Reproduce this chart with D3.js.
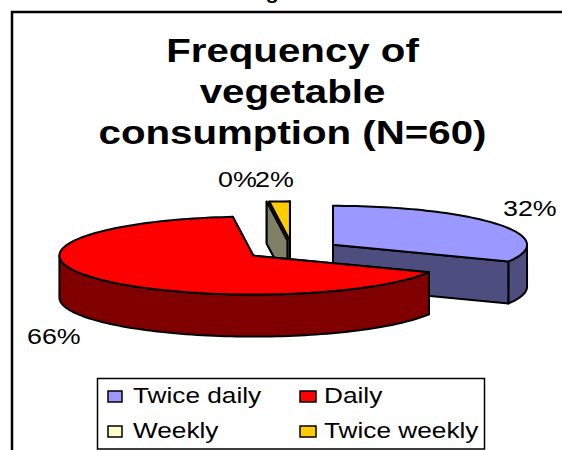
<!DOCTYPE html>
<html>
<head>
<meta charset="utf-8">
<script src="https://cdn.jsdelivr.net/npm/d3@7"></script>
<style>
  html, body { margin: 0; padding: 0; background: #fff; }
  svg { display: block; }
  text { font-family: "Liberation Sans", Arial, sans-serif; fill: #000; }
</style>
</head>
<body>
<div id="chart"></div>
<script>
// data
var categories = ["Twice daily", "Daily", "Weekly", "Twice weekly"];
var shares = [32, 66.3, 0, 1.7];
var titleLines = ["Frequency of", "vegetable", "consumption (N=60)"];

var topColors = ["#9999FF", "#FF0000", "#FFFFCC", "#FFCC00"];
var wallColors = ["#4D4D80", "#800000", "#808066", "#806600"];

var width = 562, height = 450;
var svg = d3.select("#chart").append("svg")
    .attr("width", width)
    .attr("height", height);

// image is stretched sideways compared to the font, so text gets an x scale
function addText(str, x, y, size, stretch, anchor, weight) {
    return svg.append("text")
        .attr("transform", "translate(" + x + "," + y + ") scale(" + stretch + ",1)")
        .attr("font-size", size)
        .attr("font-weight", weight || "normal")
        .attr("text-anchor", anchor || "start")
        .text(str);
}

// outer frame, right and bottom sides are cropped away in the original
svg.append("path")
    .attr("d", "M12,450V12H562")
    .attr("fill", "none")
    .attr("stroke", "#000")
    .attr("stroke-width", 2.5);

// bit of the caption above the frame
addText("g", 272, -1, 18, 1.2, "middle", "bold");

titleLines.forEach(function(line, i) {
    addText(line, 292.5, 62 + i * 41, 33, 1.22, "middle", "bold");
});

/**
 * Pie geometry: flattened ellipse with exploded slices
 */
var cx = 292.5, cy = 250, rx = 194, ry = 39, depth = 42, explode = 48;

var pie = d3.pie().sort(null).value(function(d) { return d; });
var arcs = pie(shares);
var percent = d3.format(".0%");
var total = d3.sum(shares);

// x/y scales take unit circle positions to the flattened pie
var xUnit = d3.scaleLinear().domain([-1, 1]).range([-rx, rx]);
var yUnit = d3.scaleLinear().domain([-1, 1]).range([-ry, ry]);
var line = d3.line();

function centerOf(arc) {
    var mid = (arc.startAngle + arc.endAngle) / 2;
    return [cx + explode * Math.sin(mid), cy - explode * (ry / rx) * Math.cos(mid)];
}

function rimPoint(c, angle, drop) {
    return [c[0] + xUnit(Math.sin(angle)), c[1] - yUnit(Math.cos(angle)) + drop];
}

function samples(a0, a1) {
    var n = Math.max(2, Math.ceil(Math.abs(a1 - a0) / 0.03));
    return d3.range(n + 1).map(function(i) { return a0 + (a1 - a0) * i / n; });
}

function drawPoly(points, fill) {
    svg.append("path")
        .attr("d", line(points) + "Z")
        .attr("fill", fill)
        .attr("stroke", "#000")
        .attr("stroke-width", 2)
        .attr("stroke-linejoin", "round");
}

function radialWall(c, angle, fill) {
    var base = [c[0], c[1]], rim = rimPoint(c, angle, 0);
    drawPoly([base, rim, [rim[0], rim[1] + depth], [base[0], base[1] + depth]], fill);
}

function drawSlice(i) {
    var arc = arcs[i], c = centerOf(arc);
    radialWall(c, arc.startAngle, wallColors[i]);
    radialWall(c, arc.endAngle, wallColors[i]);

    // outer wall only where the rim faces the viewer
    var from = Math.max(arc.startAngle, Math.PI / 2);
    var to = Math.min(arc.endAngle, Math.PI * 3 / 2);
    if (to > from) {
        var rimTop = samples(from, to).map(function(a) { return rimPoint(c, a, 0); });
        var rimLow = samples(to, from).map(function(a) { return rimPoint(c, a, depth); });
        drawPoly(rimTop.concat(rimLow), wallColors[i]);
    }

    if (arc.endAngle > arc.startAngle) {
        var top = samples(arc.startAngle, arc.endAngle).map(function(a) { return rimPoint(c, a, 0); });
        top.unshift(c);
        drawPoly(top, topColors[i]);
    }
}

// back to front
drawSlice(3);
drawSlice(2);
drawSlice(0);
drawSlice(1);

// data labels
var labelPos = [[503, 216], [27, 344], [218, 187], [255, 187]];
shares.forEach(function(v, i) {
    addText(percent(v / total), labelPos[i][0], labelPos[i][1], 22, 1.22);
});

// legend
svg.append("rect")
    .attr("x", 97.5).attr("y", 378.5)
    .attr("width", 387).attr("height", 70.5)
    .attr("fill", "#fff")
    .attr("stroke", "#000")
    .attr("stroke-width", 1.5);

var legendCols = [108, 300], legendRows = [391, 426];
var swatchW = [14, 16];
categories.forEach(function(name, i) {
    var col = i % 2, row = Math.floor(i / 2);
    svg.append("rect")
        .attr("x", legendCols[col]).attr("y", legendRows[row])
        .attr("width", swatchW[col]).attr("height", 11)
        .attr("fill", topColors[i])
        .attr("stroke", "#000")
        .attr("stroke-width", 1.5);
    addText(name, legendCols[col] + swatchW[col] + (col ? 8 : 11), legendRows[row] + 12, 21.5, 1.22);
});
</script>
</body>
</html>
